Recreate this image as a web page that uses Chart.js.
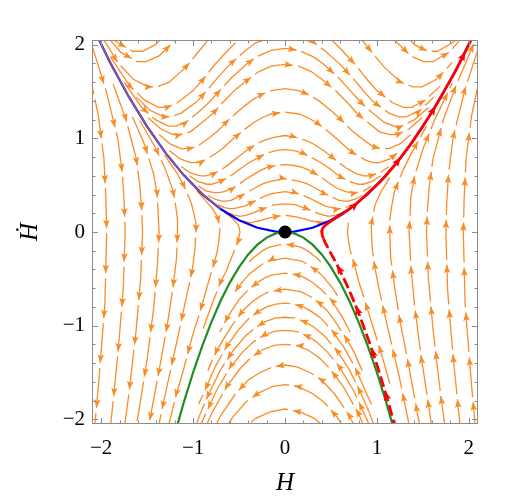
<!DOCTYPE html>
<html>
<head>
<meta charset="utf-8">
<script src="https://cdn.jsdelivr.net/npm/chart.js@4.4.1/dist/chart.umd.min.js"></script>
<style>
  html, body { margin: 0; padding: 0; background: #fff; }
</style>
</head>
<body>
<canvas id="phasePlot" width="518" height="501"></canvas>
<script>
// axis ticks
var majorTicks = [-2, -1, 0, 1, 2];
var minorTicks = [-2, -1.8, -1.6, -1.4, -1.2, -1, -0.8, -0.6, -0.4, -0.2, 0,
                  0.2, 0.4, 0.6, 0.8, 1, 1.2, 1.4, 1.6, 1.8, 2];

// invariant curves
var blueH = [-2.1, -1.9, -1.7, -1.5, -1.3, -1.1, -0.9, -0.7, -0.5, -0.3, -0.1, 0, 0.1, 0.3, 0.5, 0.7, 0.9, 1.1, 1.3, 1.5, 1.7, 1.9, 2.1];
var blueY = [2.205, 1.805, 1.445, 1.125, 0.845, 0.605, 0.405, 0.245, 0.125, 0.045, 0.005, 0, 0.005, 0.045, 0.125, 0.245, 0.405, 0.605, 0.845, 1.125, 1.445, 1.805, 2.205];
var greenH = [-1.2, -1.1, -1, -0.9, -0.8, -0.7, -0.6, -0.5, -0.4, -0.3, -0.2, -0.1, 0, 0.1, 0.2, 0.3, 0.4, 0.5, 0.6, 0.7, 0.8, 0.9, 1, 1.1, 1.2];
var greenY = [-2.16, -1.815, -1.5, -1.215, -0.96, -0.735, -0.54, -0.375, -0.24, -0.135, -0.06, -0.015, 0, -0.015, -0.06, -0.135, -0.24, -0.375, -0.54, -0.735, -0.96, -1.215, -1.5, -1.815, -2.16];
var redSolid = [[0.418,-0.07],[0.405,-0.033],[0.4,0],[0.402,0.016],[0.407,0.033],[0.419,0.053],[0.448,0.08],[0.484,0.105],[0.539,0.14],[0.587,0.169],[0.639,0.202],[0.781,0.304],[1.042,0.542],[1.2,0.72],[1.388,0.963],[1.6,1.28],[1.852,1.712],[2,2],[2.1,2.205]];
var redDashed = [[1.208,-2.116],[1.129,-1.835],[1.015,-1.462],[0.934,-1.222],[0.806,-0.876],[0.726,-0.685],[0.67,-0.56],[0.628,-0.473],[0.568,-0.355],[0.526,-0.277],[0.472,-0.179],[0.439,-0.116],[0.418,-0.07]];
var fixedPoint = [[0, 0]];

// stream lines, each listed in the direction of the flow
var upperLines = [
  [[-2.03,2.27],[-1.85,2.04],[-1.66,1.93],[-1.55,1.93],[-1.41,2.0],[-1.21,2.2]],
  [[1.21,2.2],[1.41,2.0],[1.55,1.93],[1.66,1.93],[1.85,2.04],[2.03,2.27]],
  [[-2.22,2.56],[-1.97,2.13],[-1.79,1.92],[-1.61,1.82],[-1.51,1.82],[-1.37,1.88],[-1.17,2.07],[-1.05,2.22]],
  [[1.05,2.22],[1.17,2.07],[1.37,1.88],[1.51,1.82],[1.61,1.82],[1.79,1.92],[1.97,2.13]],
  [[-2.05,2.18],[-1.82,1.81],[-1.65,1.63],[-1.49,1.55],[-1.39,1.55],[-1.26,1.6],[-1.08,1.76],[-0.97,1.89],[-0.83,2.06],[-0.67,2.25]],
  [[0.67,2.25],[0.83,2.06],[0.97,1.89],[1.08,1.76],[1.26,1.6],[1.39,1.55],[1.49,1.55],[1.65,1.63],[1.82,1.81]],
  [[-1.9,1.87],[-1.69,1.56],[-1.53,1.41],[-1.38,1.33],[-1.29,1.33],[-1.17,1.38],[-1.0,1.51],[-0.9,1.62],[-0.77,1.78],[-0.62,1.94],[-0.46,2.1]],
  [[0.46,2.1],[0.62,1.94],[0.77,1.78],[0.9,1.62],[1.0,1.51],[1.17,1.38],[1.29,1.33],[1.38,1.33],[1.53,1.41],[1.69,1.56]],
  [[-1.62,1.44],[-1.47,1.3],[-1.32,1.23],[-1.24,1.23],[-1.13,1.27],[-0.96,1.39],[-0.86,1.5],[-0.74,1.64],[-0.6,1.79],[-0.44,1.93],[-0.32,2.02],[0,2.12],[0.32,2.02],[0.44,1.93],[0.6,1.79],[0.74,1.64],[0.86,1.5],[0.96,1.39],[1.13,1.27],[1.24,1.23],[1.32,1.23],[1.47,1.3],[1.62,1.44]],
  [[-1.75,1.6],[-1.56,1.33],[-1.41,1.2],[-1.27,1.13],[-1.19,1.13],[-1.08,1.17],[-0.93,1.29],[-0.83,1.38],[-0.71,1.51],[-0.58,1.65],[-0.42,1.79],[-0.31,1.87],[-0.15,1.94],[0,1.96],[0.15,1.94],[0.31,1.87],[0.42,1.79],[0.58,1.65],[0.71,1.51],[0.83,1.38],[0.93,1.29],[1.08,1.17],[1.19,1.13],[1.27,1.13],[1.41,1.2],[1.56,1.33]],
  [[-1.49,1.22],[-1.35,1.1],[-1.22,1.04],[-1.14,1.04],[-1.03,1.07],[-0.89,1.18],[-0.79,1.26],[-0.68,1.38],[-0.55,1.51],[-0.4,1.63],[-0.29,1.71],[-0.15,1.77],[0,1.79],[0.15,1.77],[0.29,1.71],[0.4,1.63],[0.55,1.51],[0.68,1.38],[0.79,1.26],[0.89,1.18],[1.03,1.07],[1.14,1.04],[1.22,1.04],[1.35,1.1],[1.49,1.22]],
  [[-1.37,1.04],[-1.25,0.94],[-1.13,0.89],[-1.05,0.89],[-0.96,0.91],[-0.82,1.01],[-0.73,1.08],[-0.63,1.18],[-0.51,1.29],[-0.37,1.4],[-0.27,1.46],[-0.15,1.51],[0,1.53],[0.15,1.51],[0.27,1.46],[0.37,1.4],[0.51,1.29],[0.63,1.18],[0.73,1.08],[0.82,1.01],[0.96,0.91],[1.05,0.89],[1.13,0.89],[1.25,0.94],[1.37,1.04]],
  [[-1.26,0.87],[-1.14,0.78],[-1.03,0.74],[-0.96,0.74],[-0.87,0.77],[-0.75,0.84],[-0.67,0.9],[-0.57,0.99],[-0.46,1.08],[-0.34,1.17],[-0.25,1.22],[-0.15,1.26],[0,1.28],[0.15,1.26],[0.25,1.22],[0.34,1.17],[0.46,1.08],[0.57,0.99],[0.67,0.9],[0.75,0.84],[0.87,0.77],[0.96,0.74],[1.03,0.74],[1.14,0.78],[1.26,0.87]],
  [[-1.13,0.7],[-1.03,0.63],[-0.92,0.6],[-0.86,0.6],[-0.78,0.62],[-0.67,0.68],[-0.6,0.73],[-0.51,0.8],[-0.42,0.87],[-0.31,0.94],[-0.22,0.98],[-0.12,1.01],[0,1.03],[0.12,1.01],[0.22,0.98],[0.31,0.94],[0.42,0.87],[0.51,0.8],[0.6,0.73],[0.67,0.68],[0.78,0.62],[0.86,0.6],[0.92,0.6],[1.03,0.63],[1.13,0.7]],
  [[-1.04,0.6],[-0.95,0.54],[-0.85,0.51],[-0.8,0.51],[-0.73,0.53],[-0.62,0.58],[-0.56,0.62],[-0.48,0.68],[-0.39,0.74],[-0.28,0.8],[-0.2,0.84],[-0.1,0.87],[0,0.88],[0.1,0.87],[0.2,0.84],[0.28,0.8],[0.39,0.74],[0.48,0.68],[0.56,0.62],[0.62,0.58],[0.73,0.53],[0.8,0.51],[0.85,0.51],[0.95,0.54],[1.04,0.6]],
  [[-0.94,0.49],[-0.86,0.44],[-0.77,0.42],[-0.72,0.42],[-0.66,0.43],[-0.56,0.47],[-0.5,0.51],[-0.43,0.56],[-0.35,0.61],[-0.26,0.66],[-0.19,0.69],[-0.1,0.71],[0,0.72],[0.1,0.71],[0.19,0.69],[0.26,0.66],[0.35,0.61],[0.43,0.56],[0.5,0.51],[0.56,0.47],[0.66,0.43],[0.72,0.42],[0.77,0.42],[0.86,0.44],[0.94,0.49]],
  [[-0.84,0.39],[-0.76,0.35],[-0.69,0.33],[-0.64,0.33],[-0.58,0.34],[-0.5,0.38],[-0.45,0.4],[-0.38,0.44],[-0.31,0.48],[-0.23,0.52],[-0.16,0.54],[0,0.57],[0.16,0.54],[0.23,0.52],[0.31,0.48],[0.38,0.44],[0.45,0.4],[0.5,0.38],[0.58,0.34],[0.64,0.33],[0.69,0.33],[0.76,0.35],[0.84,0.39]],
  [[-0.73,0.29],[-0.66,0.26],[-0.6,0.25],[-0.56,0.25],[-0.51,0.26],[-0.43,0.28],[-0.39,0.3],[-0.33,0.33],[-0.27,0.36],[-0.2,0.39],[-0.14,0.41],[0,0.43],[0.14,0.41],[0.2,0.39],[0.27,0.36],[0.33,0.33],[0.39,0.3],[0.43,0.28],[0.51,0.26],[0.56,0.25],[0.6,0.25],[0.66,0.26],[0.73,0.29]],
  [[-0.61,0.2],[-0.55,0.18],[-0.5,0.17],[-0.47,0.17],[-0.42,0.18],[-0.36,0.2],[-0.28,0.23],[-0.23,0.25],[-0.17,0.27],[-0.12,0.29],[0,0.3],[0.12,0.29],[0.17,0.27],[0.23,0.25],[0.28,0.23],[0.36,0.2],[0.42,0.18],[0.47,0.17],[0.5,0.17],[0.55,0.18],[0.61,0.2]],
  [[-0.47,0.12],[-0.43,0.11],[-0.39,0.1],[-0.36,0.1],[-0.33,0.11],[-0.28,0.12],[-0.21,0.14],[-0.13,0.16],[0,0.18],[0.13,0.16],[0.21,0.14],[0.28,0.12],[0.33,0.11],[0.36,0.1],[0.39,0.1],[0.43,0.11],[0.47,0.12]]
];

var leftLines = [
  [[-2.17,1.89],[-2.03,1.24],[-1.97,0.78],[-1.95,0.38],[-1.94,0],[-1.96,-0.77],[-2.03,-1.64],[-2.13,-2.72]],
  [[-2.1,1.99],[-1.95,1.52],[-1.82,1.0],[-1.77,0.63],[-1.75,0.31],[-1.74,0],[-1.76,-0.62],[-1.82,-1.32],[-1.91,-2.19]],
  [[-1.87,1.58],[-1.73,1.2],[-1.62,0.79],[-1.58,0.5],[-1.56,0.24],[-1.55,0],[-1.57,-0.49],[-1.62,-1.05],[-1.7,-1.74],[-1.83,-2.68]],
  [[-1.66,1.23],[-1.53,0.94],[-1.43,0.62],[-1.39,0.39],[-1.38,0.19],[-1.37,0],[-1.39,-0.38],[-1.43,-0.82],[-1.5,-1.36],[-1.62,-2.09]],
  [[-1.58,1.19],[-1.41,0.9],[-1.31,0.69],[-1.22,0.45],[-1.19,0.28],[-1.17,0.14],[-1.17,0],[-1.18,-0.28],[-1.22,-0.6],[-1.28,-0.99],[-1.38,-1.53],[-1.54,-2.37]],
  [[-1.31,0.82],[-1.17,0.62],[-1.09,0.47],[-1.02,0.31],[-0.99,0.19],[-0.97,0.1],[-0.97,0],[-0.98,-0.19],[-1.01,-0.41],[-1.07,-0.68],[-1.15,-1.05],[-1.28,-1.63],[-1.38,-2.09]],
  [[-0.96,0.44],[-0.86,0.33],[-0.79,0.25],[-0.74,0.17],[-0.72,0.1],[-0.71,0.05],[-0.71,0],[-0.72,-0.1],[-0.74,-0.22],[-0.78,-0.36],[-0.84,-0.56],[-0.93,-0.87],[-1.01,-1.12],[-1.11,-1.49],[-1.19,-1.76],[-1.29,-2.16]],
  [[-0.66,0.21],[-0.59,0.16],[-0.55,0.12],[-0.51,0.08],[-0.5,0.05],[-0.49,0],[-0.5,-0.05],[-0.51,-0.1],[-0.54,-0.17],[-0.58,-0.27],[-0.64,-0.42],[-0.7,-0.53],[-0.77,-0.71],[-0.82,-0.84],[-0.89,-1.03]]
];

var rightLines = [
  [[1.14,-1.62],[1.07,-1.37],[0.96,-1.02],[0.89,-0.8],[0.8,-0.52],[0.75,-0.33],[0.71,-0.2],[0.69,-0.09],[0.68,0],[0.69,0.1]],
  [[1.47,-2.61],[1.33,-1.96],[1.24,-1.53],[1.11,-0.99],[1.03,-0.64],[0.98,-0.39],[0.95,-0.18],[0.94,0],[0.94,0.09],[0.96,0.18],[0.98,0.29],[1.05,0.44],[1.14,0.58]],
  [[1.5,-2.25],[1.35,-1.45],[1.25,-0.94],[1.19,-0.57],[1.15,-0.27],[1.14,0],[1.14,0.13],[1.16,0.27],[1.19,0.43],[1.28,0.65],[1.38,0.85],[1.54,1.13]],
  [[1.78,-3.16],[1.59,-2.03],[1.48,-1.32],[1.41,-0.79],[1.37,-0.37],[1.35,0],[1.36,0.18],[1.37,0.38],[1.41,0.6],[1.51,0.91],[1.63,1.2],[1.82,1.59]],
  [[1.82,-2.65],[1.69,-1.71],[1.61,-1.03],[1.56,-0.49],[1.54,0],[1.55,0.24],[1.57,0.49],[1.61,0.78],[1.72,1.19],[1.86,1.56],[2.08,2.07]],
  [[1.92,-2.21],[1.83,-1.34],[1.77,-0.63],[1.75,0],[1.76,0.31],[1.78,0.63],[1.83,1.01],[1.96,1.53],[2.12,2.01]],
  [[2.13,-2.72],[2.03,-1.64],[1.96,-0.77],[1.94,0],[1.95,0.38],[1.97,0.78],[2.03,1.24],[2.17,1.89]]
];

var lowerArcs = [
  [[0.39,-0.32],[0.34,-0.27],[0.31,-0.25],[0.26,-0.21],[0.21,-0.18],[0.16,-0.16],[0.12,-0.15],[0.08,-0.14],[0,-0.13],[-0.08,-0.14],[-0.12,-0.15],[-0.16,-0.16],[-0.21,-0.18],[-0.26,-0.21],[-0.31,-0.25],[-0.34,-0.27],[-0.39,-0.32]],
  [[0.57,-0.68],[0.51,-0.59],[0.46,-0.53],[0.39,-0.45],[0.31,-0.39],[0.24,-0.34],[0.18,-0.31],[0.12,-0.3],[0,-0.28],[-0.12,-0.3],[-0.18,-0.31],[-0.24,-0.34],[-0.31,-0.39],[-0.39,-0.45],[-0.46,-0.53],[-0.51,-0.59],[-0.57,-0.68]],
  [[0.71,-1.07],[0.63,-0.92],[0.58,-0.84],[0.49,-0.71],[0.39,-0.61],[0.3,-0.54],[0.22,-0.49],[0.15,-0.46],[0,-0.44],[-0.15,-0.46],[-0.22,-0.49],[-0.3,-0.54],[-0.39,-0.61],[-0.49,-0.71],[-0.58,-0.84],[-0.63,-0.92],[-0.71,-1.07]],
  [[0.84,-1.48],[0.75,-1.28],[0.68,-1.16],[0.57,-0.99],[0.46,-0.84],[0.35,-0.74],[0.26,-0.68],[0.18,-0.64],[0,-0.61],[-0.18,-0.64],[-0.26,-0.68],[-0.35,-0.74],[-0.46,-0.84],[-0.57,-0.99],[-0.68,-1.16],[-0.75,-1.28],[-0.84,-1.48]],
  [[0.94,-1.84],[0.83,-1.6],[0.76,-1.44],[0.64,-1.23],[0.51,-1.05],[0.39,-0.92],[0.29,-0.85],[0.2,-0.8],[0.1,-0.77],[0,-0.76],[-0.1,-0.77],[-0.2,-0.8],[-0.29,-0.85],[-0.39,-0.92],[-0.51,-1.05],[-0.64,-1.23],[-0.76,-1.44],[-0.83,-1.6],[-0.94,-1.84]],
  [[0.96,-2.04],[0.91,-1.91],[0.83,-1.73],[0.7,-1.47],[0.56,-1.26],[0.43,-1.11],[0.32,-1.02],[0.22,-0.96],[0.11,-0.92],[0,-0.91],[-0.11,-0.92],[-0.22,-0.96],[-0.32,-1.02],[-0.43,-1.11],[-0.56,-1.26],[-0.7,-1.47],[-0.83,-1.73],[-0.91,-1.91],[-0.96,-2.04]],
  [[0.98,-2.21],[0.89,-2.0],[0.75,-1.7],[0.6,-1.45],[0.46,-1.28],[0.34,-1.17],[0.24,-1.11],[0.12,-1.06],[0,-1.05],[-0.12,-1.06],[-0.24,-1.11],[-0.34,-1.17],[-0.46,-1.28],[-0.6,-1.45],[-0.75,-1.7],[-0.89,-2.0],[-0.98,-2.21]],
  [[0.95,-2.28],[0.8,-1.94],[0.64,-1.66],[0.49,-1.46],[0.37,-1.34],[0.25,-1.26],[0.12,-1.21],[0,-1.2],[-0.12,-1.21],[-0.25,-1.26],[-0.37,-1.34],[-0.49,-1.46],[-0.64,-1.66],[-0.8,-1.94],[-0.95,-2.28]],
  [[0.87,-2.3],[0.7,-1.96],[0.54,-1.73],[0.4,-1.58],[0.27,-1.5],[0.13,-1.44],[0,-1.42],[-0.13,-1.44],[-0.27,-1.5],[-0.4,-1.58],[-0.54,-1.73],[-0.7,-1.96],[-0.87,-2.3]],
  [[0.75,-2.25],[0.57,-1.98],[0.43,-1.82],[0.29,-1.72],[0.14,-1.65],[0,-1.63],[-0.14,-1.65],[-0.29,-1.72],[-0.43,-1.82],[-0.57,-1.98],[-0.75,-2.25]],
  [[0.46,-2.11],[0.32,-1.99],[0.16,-1.92],[0,-1.89],[-0.16,-1.92],[-0.32,-1.99],[-0.46,-2.11]]
];

var ORANGE = 'rgb(250,140,38)';
var SERIF = "'Liberation Serif', 'Times New Roman', serif";

function toXY(pts) {
  return pts.map(function(p) { return {x: p[0], y: p[1]}; });
}

function streamSet(pts) {
  return {
    data: toXY(pts), showLine: true, borderColor: ORANGE, borderWidth: 1.3,
    borderDash: [40, 5], pointRadius: 0, tension: 0, fill: false, clip: 0,
    arrows: {first: 40, period: 45, len: 8.5, half: 3.3, color: ORANGE}
  };
}

var datasets = [];
// index 0 is drawn on top
datasets.push({data: toXY(fixedPoint), showLine: false, pointRadius: 6.5,
  pointBackgroundColor: '#000', pointBorderWidth: 0});
datasets.push({data: toXY(redSolid), showLine: true, borderColor: '#ff0000', borderWidth: 2.8,
  pointRadius: 0, tension: 0, clip: 0,
  arrows: {first: 55, period: 62, len: 9.5, half: 3.8, color: '#ff0000'}});
datasets.push({data: toXY(redDashed), showLine: true, borderColor: '#ff0000', borderWidth: 2.8,
  borderDash: [11, 4], pointRadius: 0, tension: 0, clip: 0,
  arrows: {first: 41, period: 45, len: 9.5, half: 3.8, color: '#ff0000'}});
datasets.push({data: greenH.map(function(h, i) { return {x: h, y: greenY[i]}; }), showLine: true,
  borderColor: '#228b22', borderWidth: 2.2, pointRadius: 0, tension: 0, clip: 0});
datasets.push({data: blueH.map(function(h, i) { return {x: h, y: blueY[i]}; }).filter(function(p) { return p.x <= -0.7; }),
  showLine: true, borderColor: 'rgba(250,140,38,0.7)', borderWidth: 1.3, pointRadius: 0, tension: 0, clip: 0});
datasets.push({data: blueH.map(function(h, i) { return {x: h, y: blueY[i]}; }), showLine: true,
  borderColor: '#0000ff', borderWidth: 2.2, pointRadius: 0, tension: 0, clip: 0});
upperLines.concat(leftLines, rightLines, lowerArcs).forEach(function(line) {
  datasets.push(streamSet(line));
});

// find point at arc length s along a pixel polyline
function pointAlong(pts, s) {
  for (var i = 1; i < pts.length; i++) {
    var dx = pts[i][0] - pts[i - 1][0], dy = pts[i][1] - pts[i - 1][1];
    var len = Math.hypot(dx, dy);
    if (len > 0 && s <= len) {
      return {x: pts[i - 1][0] + dx * s / len, y: pts[i - 1][1] + dy * s / len, ux: dx / len, uy: dy / len};
    }
    s -= len;
  }
  return null;
}

var arrowPlugin = {
  id: 'arrows',
  afterDatasetDraw: function(chart, args) {
    var ds = chart.data.datasets[args.index];
    if (!ds.arrows) return;
    var pts = args.meta.data.map(function(e) { return [e.x, e.y]; });
    var a = chart.chartArea, ctx = chart.ctx, o = ds.arrows;
    ctx.save();
    ctx.beginPath();
    ctx.rect(a.left, a.top, a.right - a.left, a.bottom - a.top);
    ctx.clip();
    ctx.fillStyle = o.color;
    for (var s = o.first; ; s += o.period) {
      var p = pointAlong(pts, s);
      if (!p) break;
      if (p.x < a.left + 3 || p.x > a.right - 3 || p.y < a.top + 3 || p.y > a.bottom - 3) continue;
      ctx.beginPath();
      ctx.moveTo(p.x, p.y);
      ctx.lineTo(p.x - p.ux * o.len - p.uy * o.half, p.y - p.uy * o.len + p.ux * o.half);
      ctx.lineTo(p.x - p.ux * o.len * 0.8, p.y - p.uy * o.len * 0.8);
      ctx.lineTo(p.x - p.ux * o.len + p.uy * o.half, p.y - p.uy * o.len - p.ux * o.half);
      ctx.closePath();
      ctx.fill();
    }
    ctx.restore();
  }
};

// frame with inward ticks on all sides, plus axis titles
var framePlugin = {
  id: 'frame',
  afterDraw: function(chart) {
    var ctx = chart.ctx, a = chart.chartArea, xs = chart.scales.x, ys = chart.scales.y;
    ctx.save();
    ctx.strokeStyle = '#8c8c8c';
    ctx.lineWidth = 1;
    ctx.strokeRect(a.left + 0.5, a.top + 0.5, a.right - a.left - 1, a.bottom - a.top - 1);
    ctx.beginPath();
    minorTicks.forEach(function(v) {
      var len = majorTicks.indexOf(v) >= 0 ? 6 : 3.5;
      var px = Math.round(xs.getPixelForValue(v)) + 0.5;
      ctx.moveTo(px, a.bottom); ctx.lineTo(px, a.bottom - len);
      ctx.moveTo(px, a.top); ctx.lineTo(px, a.top + len);
      var py = Math.round(ys.getPixelForValue(v)) + 0.5;
      ctx.moveTo(a.left, py); ctx.lineTo(a.left + len, py);
      ctx.moveTo(a.right, py); ctx.lineTo(a.right - len, py);
    });
    ctx.stroke();
    ctx.fillStyle = '#000';
    ctx.font = 'italic 25px ' + SERIF;
    ctx.textAlign = 'center';
    ctx.textBaseline = 'middle';
    ctx.fillText('H', (a.left + a.right) / 2, a.bottom + 59);
    ctx.translate(a.left - 62, (a.top + a.bottom) / 2);
    ctx.rotate(-Math.PI / 2);
    ctx.fillText('\u1E22', 0, 0);
    ctx.restore();
  }
};

function tickText(v) {
  return v < 0 ? '\u2212' + (-v) : String(v);
}

new Chart(document.getElementById('phasePlot').getContext('2d'), {
  type: 'scatter',
  data: {datasets: datasets},
  options: {
    responsive: false,
    animation: false,
    devicePixelRatio: 1,
    events: [],
    layout: {padding: {top: 40, right: 40, left: 0, bottom: 0}},
    plugins: {legend: {display: false}, tooltip: {enabled: false}},
    scales: {
      x: {
        type: 'linear', min: -2.1, max: 2.1, bounds: 'data',
        grid: {display: false, drawTicks: false}, border: {display: false},
        afterBuildTicks: function(s) { s.ticks = majorTicks.map(function(v) { return {value: v}; }); },
        afterFit: function(s) { s.height = 77; },
        ticks: {font: {family: SERIF, size: 21}, color: '#000', padding: 12, maxRotation: 0, autoSkip: false, callback: tickText}
      },
      y: {
        type: 'linear', min: -2.05, max: 2.05, bounds: 'data',
        grid: {display: false, drawTicks: false}, border: {display: false},
        afterBuildTicks: function(s) { s.ticks = majorTicks.map(function(v) { return {value: v}; }); },
        afterFit: function(s) { s.width = 92; },
        ticks: {font: {family: SERIF, size: 21}, color: '#000', padding: 7, autoSkip: false, callback: tickText}
      }
    }
  },
  plugins: [arrowPlugin, framePlugin]
});
</script>
</body>
</html>
